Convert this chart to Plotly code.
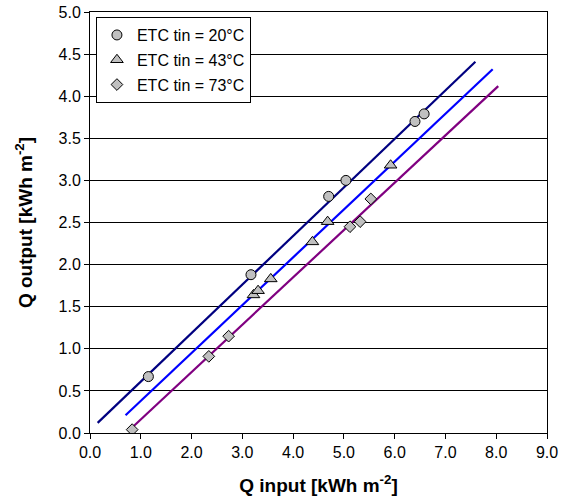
import plotly.graph_objects as go

# Measured data
x20 = [1.15, 3.17, 4.70, 5.04, 6.40, 6.58]
y20 = [0.67, 1.88, 2.81, 3.00, 3.70, 3.79]
x43 = [3.22, 3.31, 3.56, 4.38, 4.68, 5.92]
y43 = [1.64, 1.69, 1.83, 2.27, 2.51, 3.18]
x73 = [0.83, 2.34, 2.73, 5.12, 5.32, 5.53]
y73 = [0.04, 0.91, 1.15, 2.45, 2.51, 2.78]

# Fit line end points
fit20_x = [0.15, 7.59]
fit20_y = [0.12, 4.41]
fit43_x = [0.70, 7.93]
fit43_y = [0.21, 4.32]
fit73_x = [0.82, 8.04]
fit73_y = [0.06, 4.12]

names = ["ETC tin = 20°C", "ETC tin = 43°C", "ETC tin = 73°C"]
x_ticks = [0, 1, 2, 3, 4, 5, 6, 7, 8, 9]
y_ticks = [0, 0.5, 1, 1.5, 2, 2.5, 3, 3.5, 4, 4.5, 5]

font = "Liberation Sans, Arial, sans-serif"
fig = go.Figure()

fig.add_trace(go.Scatter(x=fit20_x, y=fit20_y, mode="lines", line=dict(color="#000080", width=2.2), showlegend=False, hoverinfo="skip"))
fig.add_trace(go.Scatter(x=fit43_x, y=fit43_y, mode="lines", line=dict(color="#0000FF", width=2.2), showlegend=False, hoverinfo="skip"))
fig.add_trace(go.Scatter(x=fit73_x, y=fit73_y, mode="lines", line=dict(color="#800080", width=2.2), showlegend=False, hoverinfo="skip"))

mk = dict(color="#C0C0C0", line=dict(color="black", width=1))
fig.add_trace(go.Scatter(x=x20, y=y20, mode="markers", name=names[0], legendgroup="a",
                         marker=dict(symbol="circle", size=10, **mk)))
fig.add_trace(go.Scatter(x=x43, y=y43, mode="markers", name=names[1], legendgroup="b",
                         marker=dict(symbol="triangle-up", size=11, **mk)))
fig.add_trace(go.Scatter(x=x73, y=y73, mode="markers", name=names[2], legendgroup="c",
                         marker=dict(symbol="diamond", size=9, **mk)))

fig.update_layout(
    width=570, height=502,
    margin=dict(l=90, r=23, t=12, b=69),
    paper_bgcolor="white", plot_bgcolor="white",
    font=dict(family=font, size=16, color="black"),
    showlegend=True,
    legend=dict(x=0.013, y=0.988, xanchor="left", yanchor="top",
                bgcolor="white", bordercolor="black", borderwidth=1,
                font=dict(size=16), tracegroupgap=1, traceorder="grouped", itemwidth=30),
    xaxis=dict(range=[0, 9], tickvals=x_ticks, ticktext=[f"{v:.1f}" for v in x_ticks],
               showgrid=False, zeroline=False, showline=True, linecolor="black", linewidth=1,
               mirror=True, ticks="outside", ticklen=5, tickcolor="black", automargin=False,
               tickfont=dict(size=16), ticklabeloverflow="allow",
               title=dict(text="<b>Q input [kWh m<sup>-2</sup>]</b>", font=dict(size=19), standoff=18)),
    yaxis=dict(range=[0, 5], tickvals=y_ticks, ticktext=[f"{v:.1f}" for v in y_ticks],
               showgrid=True, gridcolor="black", gridwidth=1, zeroline=False,
               showline=True, linecolor="black", linewidth=1, mirror=True,
               ticks="outside", ticklen=5, tickcolor="black", automargin=False,
               tickfont=dict(size=16), ticklabeloverflow="allow",
               title=dict(text="<b>Q output [kWh m<sup>-2</sup>]</b>", font=dict(size=19), standoff=20)),
)

fig.write_html("out.html", config={"displayModeBar": False},
               post_script="document.body.style.margin='0';")
